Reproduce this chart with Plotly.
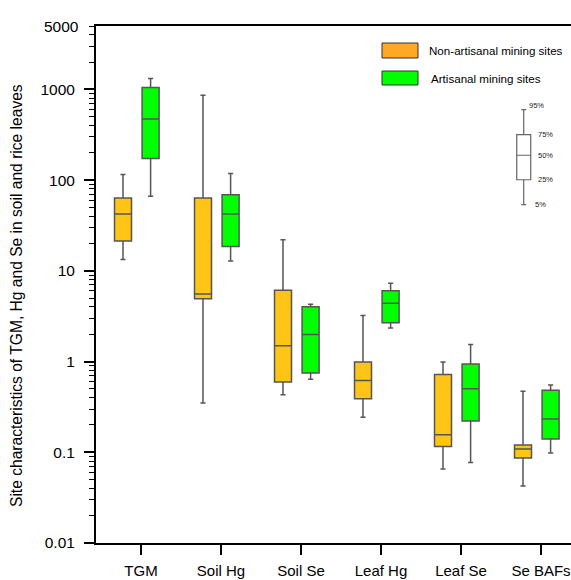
import math
import plotly.graph_objects as go

# ---------------- data ----------------
categories = ["TGM", "Soil Hg", "Soil Se", "Leaf Hg", "Leaf Se", "Se BAFs"]

non_p5 = [13.3, 0.35, 0.432, 0.243, 0.0654, 0.0425]
non_q1 = [21.3, 4.93, 0.597, 0.388, 0.116, 0.0865]
non_med = [42.2, 5.56, 1.49, 0.617, 0.156, 0.109]
non_q3 = [63.4, 63.4, 6.12, 0.99, 0.719, 0.120]
non_p95 = [115, 863, 22.0, 3.22, 0.99, 0.470]

art_p5 = [66.3, 12.8, 0.638, 2.35, 0.0774, 0.098]
art_q1 = [173, 18.6, 0.750, 2.67, 0.221, 0.140]
art_med = [472, 42.2, 1.99, 4.40, 0.503, 0.233]
art_q3 = [1050, 69.2, 4.01, 6.03, 0.943, 0.482]
art_p95 = [1320, 118, 4.29, 7.31, 1.54, 0.553]

key_values = [53.7, 101, 188, 318, 600]
key_labels = ["5%", "25%", "50%", "75%", "95%"]

y_tickvals = [0.01, 0.1, 1, 10, 100, 1000]
y_ticktext = ["0.01", "0.1", "1", "10", "100", "1000"]

series_names = ["Non-artisanal mining sites", "Artisanal mining sites"]

# ---------------- style ----------------
W, H = 571, 580
L, R, T, B = 96, 0, 26, 37
ORANGE = "#FFC414"
ORANGE_LEG = "#FFA826"
GREEN = "#00FF00"
LINE = "#555555"
REG = "Liberation Sans, Arial"

off_non, off_art = -0.225, 0.12
box_w = 0.2125
idx = list(range(len(categories)))


def px_x(p):
    return (p - L) / (W - L - R)


def px_y(p):
    return (H - B - p) / (H - B - T)


fig = go.Figure()

fig.add_trace(go.Box(
    x=[i + off_non for i in idx], q1=non_q1, median=non_med, q3=non_q3,
    lowerfence=non_p5, upperfence=non_p95, name=series_names[0],
    fillcolor=ORANGE, line=dict(color=LINE, width=1.5), width=box_w,
    whiskerwidth=0.3, boxpoints=False, showlegend=False))

fig.add_trace(go.Box(
    x=[i + off_art for i in idx], q1=art_q1, median=art_med, q3=art_q3,
    lowerfence=art_p5, upperfence=art_p95, name=series_names[1],
    fillcolor=GREEN, line=dict(color=LINE, width=1.5), width=box_w,
    whiskerwidth=0.3, boxpoints=False, showlegend=False))

# key box
key_x = 4.784
fig.add_trace(go.Box(
    x=[key_x], q1=[key_values[1]], median=[key_values[2]], q3=[key_values[3]],
    lowerfence=[key_values[0]], upperfence=[key_values[4]],
    fillcolor="white", line=dict(color="#666666", width=1.2), width=0.175,
    whiskerwidth=0.35, boxpoints=False, showlegend=False, hoverinfo="skip"))

annotations = []
for v, lab in zip(key_values, key_labels):
    if lab == "95%":
        ax, sh = key_x + 0.035, 4
    elif lab == "5%":
        ax, sh = key_x + 0.11, 0
    else:
        ax, sh = key_x + 0.155, 0
    annotations.append(dict(x=ax, y=math.log10(v), xref="x", yref="y", text=lab,
                            showarrow=False, xanchor="left", yanchor="middle", yshift=sh,
                            font=dict(family=REG, size=7.5, color="#222222")))

# 5000 top label
annotations.append(dict(x=px_x(81), y=px_y(26), xref="paper", yref="paper", text="5000",
                        showarrow=False, xanchor="right", yanchor="middle",
                        font=dict(family=REG, size=15.5, color="black")))

# y title
annotations.append(dict(x=px_x(16), y=px_y(296), xref="paper", yref="paper",
                        text="Site characteristics of TGM, Hg and Se in soil and rice leaves",
                        textangle=-90, showarrow=False, xanchor="center", yanchor="middle",
                        font=dict(family=REG, size=15.6, color="black")))

# legend (manual)
shapes = []
for (y0, y1, col, name, tx) in [(43, 58, ORANGE_LEG, series_names[0], 427),
                                (71, 85, GREEN, series_names[1], 429)]:
    shapes.append(dict(type="rect", xref="paper", yref="paper",
                       x0=px_x(382), x1=px_x(418), y0=px_y(y1), y1=px_y(y0),
                       fillcolor=col, line=dict(color="#333333", width=1)))
    annotations.append(dict(x=px_x(tx), y=px_y((y0 + y1) / 2), xref="paper", yref="paper",
                            text=name, showarrow=False, xanchor="left", yanchor="middle",
                            font=dict(family=REG, size=11.6, color="black")))

minor_vals = []
for k in range(-2, 4):
    for m in range(2, 10):
        v = m * 10 ** k
        if v <= 5000:
            minor_vals.append(v)

fig.update_layout(
    width=W, height=H,
    margin=dict(l=L, r=R, t=T, b=B, pad=0),
    paper_bgcolor="white", plot_bgcolor="white",
    showlegend=False,
    shapes=shapes, annotations=annotations,
    xaxis=dict(range=[-0.5625, 5.375], tickmode="array", tickvals=idx, ticktext=categories,
               ticks="outside", ticklen=10, tickwidth=1.5, tickcolor="black",
               ticklabelstandoff=3,
               showline=True, linecolor="black", linewidth=2, mirror=True,
               showgrid=False, zeroline=False,
               tickfont=dict(family=REG, size=15, color="black")),
    yaxis=dict(type="log", range=[-2, math.log10(5000)], tickmode="array",
               tickvals=y_tickvals, ticktext=y_ticktext,
               ticks="outside", ticklen=10, tickwidth=1.5, tickcolor="black",
               ticklabelstandoff=6,
               showline=True, linecolor="black", linewidth=2,
               showgrid=False, zeroline=False,
               tickfont=dict(family=REG, size=15.5, color="black"),
               minor=dict(tickvals=minor_vals, ticks="outside", ticklen=5,
                          tickwidth=1.2, tickcolor="black", showgrid=False)),
)

fig.write_html("out.html")
